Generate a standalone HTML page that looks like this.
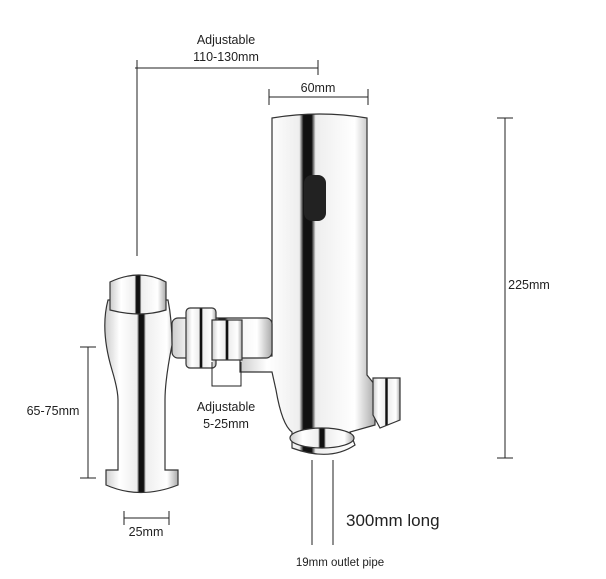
<!DOCTYPE html><html><head><style>body{margin:0;background:#fff}svg{display:block}text{font-family:"Liberation Sans",sans-serif;fill:#222}</style></head><body>
<svg width="606" height="579" viewBox="0 0 606 579">
<defs>
<linearGradient id="g" x1="0" x2="1"><stop offset="0" stop-color="#ccc"/><stop offset=".2" stop-color="#fff"/><stop offset=".44" stop-color="#eee"/><stop offset=".47" stop-color="#111"/><stop offset=".53" stop-color="#111"/><stop offset=".56" stop-color="#eee"/><stop offset=".85" stop-color="#fff"/><stop offset="1" stop-color="#aaa"/></linearGradient>
</defs>
<g stroke="#222" stroke-width="1" fill="none">
<path d="M135 68H318M137 60V256M318 60V75"/>
<path d="M269 97H368M269 89V105M368 89V105"/>
<path d="M505 118V458M497 118H513M497 458H513"/>
<path d="M88 347V478M80 347H96M80 478H96"/>
<path d="M124 518H169M124 511V525M169 511V525"/>
<path d="M312 460V545M333 460V545"/>
</g>
<g stroke="#333" stroke-width="1.2" fill="url(#g)">
<path d="M272 118Q320 110 367 118V375L375 385V425L350 432L355 445Q330 462 292 448L292 432Q282 425 276 390L272 372H240V356H272Z"/>
<rect x="172" y="318" width="100" height="40" rx="6"/>
<rect x="186" y="308" width="30" height="60" rx="4"/>
<rect x="212" y="320" width="30" height="40"/>
<path d="M373 378H400V420L380 428L373 415Z"/>
<path d="M108 300Q100 330 112 370Q118 390 118 400V470H106V485Q140 500 178 485V470H165V400Q165 380 172 345Q172 320 168 300Z"/>
<path d="M110 282Q140 268 166 282V310Q140 318 110 310Z"/>
<ellipse cx="322" cy="438" rx="32" ry="10"/>
</g>
<path d="M212 362V386H241V362" stroke="#222" fill="none"/>
<rect x="304" y="175" width="22" height="46" rx="8" fill="#222"/>
<g font-size="12.5" text-anchor="middle">
<text x="226" y="44">Adjustable</text><text x="226" y="61">110-130mm</text>
<text x="318" y="92">60mm</text>
<text x="529" y="289">225mm</text>
<text x="53" y="415">65-75mm</text>
<text x="226" y="411">Adjustable</text><text x="226" y="428">5-25mm</text>
<text x="146" y="536">25mm</text>
<text x="340" y="566" font-size="11.5">19mm outlet pipe</text>
</g>
<text x="346" y="526" font-size="17">300mm long</text>
</svg></body></html>
